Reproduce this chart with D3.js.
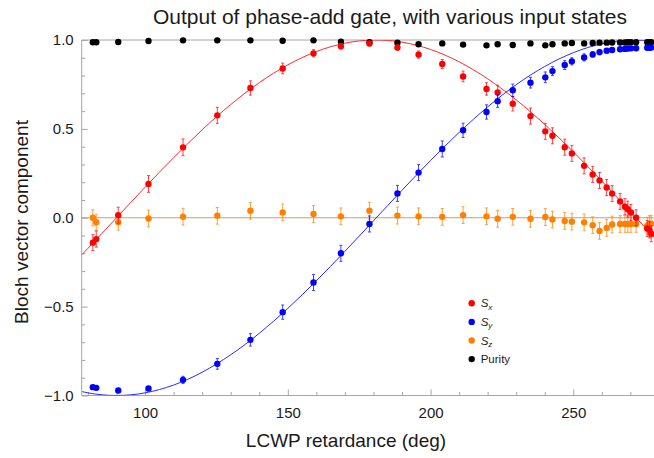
<!DOCTYPE html>
<html>
<head>
<meta charset="utf-8">
<script src="https://cdn.jsdelivr.net/npm/d3@7"></script>
<style>
  html, body { margin: 0; padding: 0; background: #fff; }
  svg { display: block; font-family: "Liberation Sans", Arial, sans-serif; }
</style>
</head>
<body>
<svg id="chart" width="654" height="458"></svg>
<script>
// Retardance settings of the LCWP (deg)
const retardance = [81.7, 82.9, 90.6, 101.2, 113.3, 125.3, 136.9, 148.2, 159.0, 168.6,
  178.6, 188.4, 195.8, 204.1, 211.4, 219.6, 223.5, 228.8, 235.0, 240.2,
  242.7, 247.0, 249.5, 253.8, 256.8, 259.2, 261.7, 263.6, 266.4, 268.1,
  269.1, 270.2, 272.0, 275.9, 276.7, 277.3];

// Measured Bloch vector components
const sx = [-0.14, -0.12, 0.014, 0.19, 0.396, 0.576, 0.73, 0.84, 0.925, 0.965,
  0.98, 0.958, 0.918, 0.865, 0.795, 0.725, 0.705, 0.641, 0.572, 0.486,
  0.461, 0.397, 0.362, 0.292, 0.244, 0.21, 0.17, 0.136, 0.092, 0.062,
  0.048, 0.03, 0.0, -0.06, -0.068, -0.09];
const sy = [-0.953, -0.957, -0.972, -0.961, -0.912, -0.822, -0.687, -0.531, -0.364, -0.2,
  -0.035, 0.137, 0.254, 0.387, 0.492, 0.595, 0.656, 0.717, 0.76, 0.79,
  0.825, 0.859, 0.88, 0.902, 0.919, 0.932, 0.94, 0.944, 0.948, 0.95,
  0.952, 0.953, 0.954, 0.956, 0.957, 0.957];
const sz = [0.0, -0.025, -0.025, -0.004, 0.006, 0.011, 0.039, 0.030, 0.021, 0.008,
  0.04, 0.012, 0.008, 0.005, 0.015, 0.008, -0.006, 0.005, -0.006, 0.004,
  -0.01, -0.018, -0.022, -0.026, -0.042, -0.074, -0.057, -0.038, -0.035, -0.035,
  -0.035, -0.035, -0.035, -0.045, -0.036, -0.033];
const purity = [0.987, 0.987, 0.989, 0.994, 0.998, 0.998, 0.998, 0.996, 0.998, 0.991,
  0.987, 0.985, 0.976, 0.981, 0.974, 0.97, 0.976, 0.972, 0.981, 0.97,
  0.976, 0.981, 0.983, 0.981, 0.983, 0.985, 0.985, 0.986, 0.986, 0.986,
  0.987, 0.987, 0.987, 0.987, 0.987, 0.987];

// One-sigma uncertainties
const sxErr = [0.045, 0.045, 0.045, 0.047, 0.047, 0.045, 0.04, 0.03, 0.02, 0.015,
  0.012, 0.015, 0.02, 0.025, 0.03, 0.035, 0.04, 0.04, 0.045, 0.045,
  0.045, 0.045, 0.045, 0.045, 0.045, 0.045, 0.045, 0.045, 0.045, 0.045,
  0.045, 0.045, 0.045, 0.045, 0.045, 0.045];
const syErr = [0.005, 0.005, 0.005, 0.008, 0.02, 0.03, 0.035, 0.04, 0.045, 0.045,
  0.045, 0.045, 0.045, 0.045, 0.04, 0.04, 0.035, 0.035, 0.03, 0.03,
  0.025, 0.025, 0.02, 0.02, 0.015, 0.015, 0.012, 0.012, 0.01, 0.01,
  0.01, 0.01, 0.01, 0.01, 0.01, 0.01];
const szErr = [0.045, 0.045, 0.045, 0.047, 0.047, 0.047, 0.047, 0.047, 0.047, 0.047,
  0.047, 0.047, 0.047, 0.047, 0.047, 0.047, 0.047, 0.047, 0.047, 0.047,
  0.047, 0.047, 0.047, 0.047, 0.047, 0.047, 0.047, 0.047, 0.047, 0.047,
  0.047, 0.047, 0.047, 0.047, 0.047, 0.047];

// Model curves for the gate output
const fitRetardance = [78, 80, 85, 90, 95, 100, 105, 110, 115, 120, 125, 130, 135, 140, 145,
  150, 155, 160, 165, 170, 175, 180, 185, 190, 195, 200, 205, 210, 215, 220,
  225, 230, 235, 240, 245, 250, 255, 260, 265, 270, 275, 280, 281];
const sxFit = [-0.2058, -0.1718, -0.0863, 0, 0.0863, 0.1714, 0.2559, 0.3377, 0.4175, 0.4945,
  0.5685, 0.6370, 0.7009, 0.7598, 0.8131, 0.8602, 0.9010, 0.9350, 0.9621, 0.9820,
  0.9946, 0.9999, 0.9976, 0.9880, 0.9709, 0.9467, 0.9154, 0.8773, 0.8327, 0.7818,
  0.7251, 0.6631, 0.5962, 0.5248, 0.4497, 0.3711, 0.2895, 0.2057, 0.1205, 0.0345,
  -0.0518, -0.1378, -0.1549];
const syFit = [-0.9786, -0.9851, -0.9963, -1, -0.9963, -0.9852, -0.9667, -0.9413, -0.9087, -0.8692,
  -0.8226, -0.7709, -0.7133, -0.6501, -0.5821, -0.5099, -0.4339, -0.3546, -0.2727, -0.1888,
  -0.1034, -0.0173, 0.0690, 0.1547, 0.2393, 0.3221, 0.4025, 0.4799, 0.5538, 0.6235,
  0.6885, 0.7485, 0.8028, 0.8512, 0.8932, 0.9286, 0.9572, 0.9786, 0.9927, 0.9994,
  0.9987, 0.9905, 0.9879];
const szFit = [0, 0];
const szFitRetardance = [77.8, 280.9];

const xTicks = [100, 150, 200, 250];
const yTicks = [-1.0, -0.5, 0.0, 0.5, 1.0];
const xDomain = [77.8, 280.9];
const yDomain = [-1, 1];

const seriesNames = ["Sx", "Sy", "Sz", "Purity"];
const seriesColors = ["#ff0000", "#0000ff", "#ff8000", "#000000"];

const svg = d3.select("#chart");
const x = d3.scaleLinear().domain(xDomain).range([81.7, 661.5]);
const y = d3.scaleLinear().domain(yDomain).range([395.5, 40]);
const frameColor = "#a6a6a6";

svg.append("defs").append("clipPath").attr("id", "plotClip")
  .append("rect").attr("x", x(xDomain[0])).attr("y", y(1)).attr("width", x(xDomain[1]) - x(xDomain[0]))
  .attr("height", y(-1) - y(1));

// Frame: left, bottom, top
const frame = svg.append("g");
frame.append("line").attr("x1", x(xDomain[0])).attr("x2", x(xDomain[0]))
  .attr("y1", y(1)).attr("y2", y(-1)).attr("stroke", frameColor);
frame.append("line").attr("x1", x(xDomain[0])).attr("x2", x(xDomain[1]))
  .attr("y1", y(-1)).attr("y2", y(-1)).attr("stroke", frameColor);
frame.append("line").attr("x1", x(xDomain[0])).attr("x2", x(xDomain[1]))
  .attr("y1", y(1)).attr("y2", y(1)).attr("stroke", frameColor);

// Inward ticks with D3 axes
const xMinor = d3.range(80, 281, 10).filter(v => !xTicks.includes(v));
const xAxisMajor = d3.axisTop(x).tickValues(xTicks).tickSize(6).tickFormat("");
const xAxisMinor = d3.axisTop(x).tickValues(xMinor).tickSize(3.5).tickFormat("");
[xAxisMajor, xAxisMinor].forEach(ax => {
  const g = svg.append("g").attr("transform", `translate(0,${y(-1)})`).call(ax);
  g.select(".domain").remove();
  g.selectAll("line").attr("stroke", frameColor);
});
const xLabels = svg.append("g").attr("transform", `translate(0,${y(-1)})`)
  .call(d3.axisBottom(x).tickValues(xTicks).tickSize(0).tickPadding(12).tickFormat(d3.format("d")));
xLabels.select(".domain").remove();
xLabels.selectAll("text").attr("font-size", 15).attr("fill", "#1a1a1a")
  .attr("font-family", "Liberation Sans, Arial, sans-serif");

const yMinor = d3.range(-9, 10).map(v => v / 10).filter(v => Math.abs(v * 2 - Math.round(v * 2)) > 1e-6);
const yAxisMajor = d3.axisRight(y).tickValues(yTicks).tickSize(6).tickFormat("");
const yAxisMinor = d3.axisRight(y).tickValues(yMinor).tickSize(3.5).tickFormat("");
[yAxisMajor, yAxisMinor].forEach(ax => {
  const g = svg.append("g").attr("transform", `translate(${x(xDomain[0])},0)`).call(ax);
  g.select(".domain").remove();
  g.selectAll("line").attr("stroke", frameColor);
});
const fmtY = v => (v < 0 ? "\u2212" : "") + Math.abs(v).toFixed(1);
const yLabels = svg.append("g").attr("transform", `translate(${x(xDomain[0])},0)`)
  .call(d3.axisLeft(y).tickValues(yTicks).tickSize(0).tickPadding(8).tickFormat(fmtY));
yLabels.select(".domain").remove();
yLabels.selectAll("text").attr("font-size", 15).attr("fill", "#1a1a1a")
  .attr("font-family", "Liberation Sans, Arial, sans-serif");

// Model curves
const plot = svg.append("g");
const curves = plot.append("g").attr("clip-path", "url(#plotClip)");
const line = d3.line().x(d => x(d[0])).y(d => y(d[1])).curve(d3.curveMonotoneX);
curves.append("path").datum(d3.zip(szFitRetardance, szFit)).attr("d", line)
  .attr("fill", "none").attr("stroke", "#cc9c6c").attr("stroke-width", 1.2);
curves.append("path").datum(d3.zip(fitRetardance, sxFit)).attr("d", line)
  .attr("fill", "none").attr("stroke", "#ff2a2a").attr("stroke-width", 1);
curves.append("path").datum(d3.zip(fitRetardance, syFit)).attr("d", line)
  .attr("fill", "none").attr("stroke", "#2a2aff").attr("stroke-width", 1);

// Measured points with error bars
const series = [
  { vals: sx, errs: sxErr, color: seriesColors[0] },
  { vals: sy, errs: syErr, color: seriesColors[1] },
  { vals: sz, errs: szErr, color: seriesColors[2] },
  { vals: purity, errs: null, color: seriesColors[3] }
];
const drawOrder = [3, 2, 0, 1];
drawOrder.forEach(i => {
  const s = series[i];
  const pts = retardance.map((r, k) => ({ r, v: s.vals[k], e: s.errs ? s.errs[k] : 0 }));
  const g = plot.append("g");
  if (s.errs) {
    const bars = g.selectAll(".bar").data(pts).join("g").attr("opacity", 0.75);
    bars.append("line").attr("x1", d => x(d.r)).attr("x2", d => x(d.r))
      .attr("y1", d => y(d.v - d.e)).attr("y2", d => y(d.v + d.e))
      .attr("stroke", s.color).attr("stroke-width", 1);
    [-1, 1].forEach(sg => {
      bars.append("line").attr("x1", d => x(d.r) - 1.5).attr("x2", d => x(d.r) + 1.5)
        .attr("y1", d => y(d.v + sg * d.e)).attr("y2", d => y(d.v + sg * d.e))
        .attr("stroke", s.color).attr("stroke-width", 1);
    });
  }
  g.selectAll("circle").data(pts).join("circle")
    .attr("cx", d => x(d.r)).attr("cy", d => y(d.v)).attr("r", 3.2)
    .attr("fill", s.color);
});

// Legend
const legend = svg.append("g").attr("transform", "translate(471.7,303.3)");
const subs = ["x", "y", "z", null];
seriesNames.forEach((name, i) => {
  const row = legend.append("g").attr("transform", `translate(0,${i * 18.6})`);
  row.append("circle").attr("r", 3.2).attr("fill", seriesColors[i]);
  const t = row.append("text").attr("x", 9).attr("y", 4).attr("font-size", 11.5).attr("fill", "#1a1a1a");
  if (subs[i]) {
    t.append("tspan").attr("font-style", "italic").text("S");
    t.append("tspan").attr("font-style", "italic").attr("font-size", 8).attr("dy", 2.5).text(subs[i]);
  } else {
    t.text(name);
  }
});

// Titles
svg.append("text").attr("x", 390).attr("y", 24).attr("text-anchor", "middle")
  .attr("font-size", 21).attr("fill", "#1a1a1a")
  .text("Output of phase-add gate, with various input states");
svg.append("text").attr("x", 346).attr("y", 447).attr("text-anchor", "middle")
  .attr("font-size", 19).attr("fill", "#1a1a1a")
  .text("LCWP retardance (deg)");
svg.append("text").attr("transform", "translate(28,222) rotate(-90)").attr("text-anchor", "middle")
  .attr("font-size", 19).attr("fill", "#1a1a1a")
  .text("Bloch vector component");
</script>
</body>
</html>
